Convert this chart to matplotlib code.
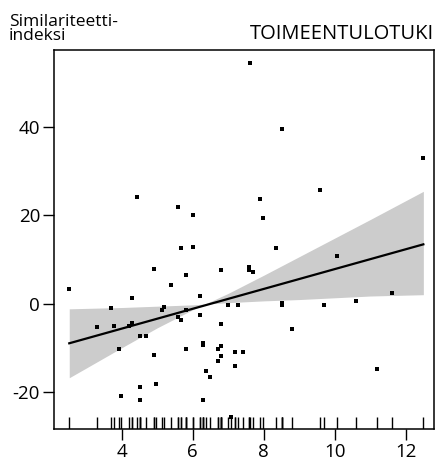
import matplotlib
matplotlib.use("Agg")
import matplotlib.pyplot as plt
import matplotlib.transforms as mtransforms

plt.rcParams['font.family'] = ['Open Sans', 'DejaVu Sans']
plt.rcParams['axes.unicode_minus'] = False

# data points (x, similarity index)
point_x = [2.52, 3.31, 3.71, 3.79, 3.93, 3.99, 4.21, 4.30, 4.30, 4.42,
           4.50, 4.50, 4.50, 4.69, 4.92, 4.92, 4.97, 5.12, 5.20, 5.40,
           5.59, 5.59, 5.68, 5.68, 5.82, 5.82, 5.82, 6.02, 6.02, 6.21,
           6.21, 6.30, 6.30, 6.30, 6.38, 6.50, 6.72, 6.72, 6.81, 6.81,
           6.81, 6.81, 7.00, 7.08, 7.20, 7.20, 7.28, 7.43, 7.59, 7.60,
           7.62, 7.71, 7.90, 7.99, 8.34, 8.52, 8.52, 8.52, 8.81, 9.59,
           9.71, 10.07, 10.61, 11.20, 11.61, 12.50]
point_y = [3.3, -5.3, -1.0, -5.0, -10.3, -21.0, -5.1, 1.3, -4.4, 24.2,
           -7.4, -18.9, -21.9, -7.4, 7.8, -11.7, -18.2, -1.5, -0.8, 4.2,
           21.8, -3.1, 12.5, -3.8, 6.4, -1.5, -10.3, 20.0, 12.8, 1.7,
           -2.6, -9.0, -9.4, -21.9, -15.3, -16.7, -10.3, -13.0, 7.6, -4.7,
           -9.6, -11.9, -0.4, -25.6, -11.0, -14.2, -0.4, -11.0, 8.3, 7.7,
           54.4, 7.1, 23.6, 19.3, 12.5, 39.5, 0.2, -0.4, -5.8, 25.7,
           -0.4, 10.7, 0.5, -14.9, 2.4, 32.9]

# fitted line
fit_x = [2.52, 12.5]
fit_y = [-9.0, 13.4]

# confidence band edges
band_x = [2.52, 3, 4, 5, 6, 7, 8, 9, 10, 11, 12.5]
band_a = [-16.8, -14.6, -10.0, -5.5, -1.4, 2.3, 6.4, 10.6, 14.8, 19.0, 25.4]
band_b = [-1.2, -1.1, -0.9, -0.6, -0.3, 0.2, 0.6, 0.9, 1.3, 1.7, 2.0]

xticks = [4, 6, 8, 10, 12]
yticks = [-20, 0, 20, 40]

fig = plt.figure(figsize=(4.39, 4.67), dpi=100)
ax = fig.add_axes([0.123, 0.0814, 0.8656, 0.8116])

ax.fill_between(band_x, band_a, band_b, color='#cccccc', linewidth=0, zorder=1)
ax.plot(fit_x, fit_y, color='black', linewidth=1.6, zorder=3)
ax.plot(point_x, point_y, linestyle='none', marker='s', markersize=2.3,
        color='black', markeredgewidth=0, zorder=4)

trans = mtransforms.blended_transform_factory(ax.transData, ax.transAxes)
ax.vlines(point_x, 0, 0.032, transform=trans, color='black', linewidth=1.0, zorder=4)

ax.set_xlim(2.09, 12.80)
ax.set_ylim(-28.4, 57.4)
ax.set_xticks(xticks)
ax.set_yticks(yticks)
ax.tick_params(direction='out', length=8, width=1, labelsize=13.5, pad=2)
for s in ax.spines.values():
    s.set_linewidth(1.1)

fig.text(0.02, 0.905, 'Similariteetti-\nindeksi', ha='left', va='bottom',
         fontsize=12.5, linespacing=0.9)
fig.text(0.989, 0.905, 'TOIMEENTULOTUKI', ha='right', va='bottom', fontsize=14.5)

fig.savefig('out.png', dpi=100)
